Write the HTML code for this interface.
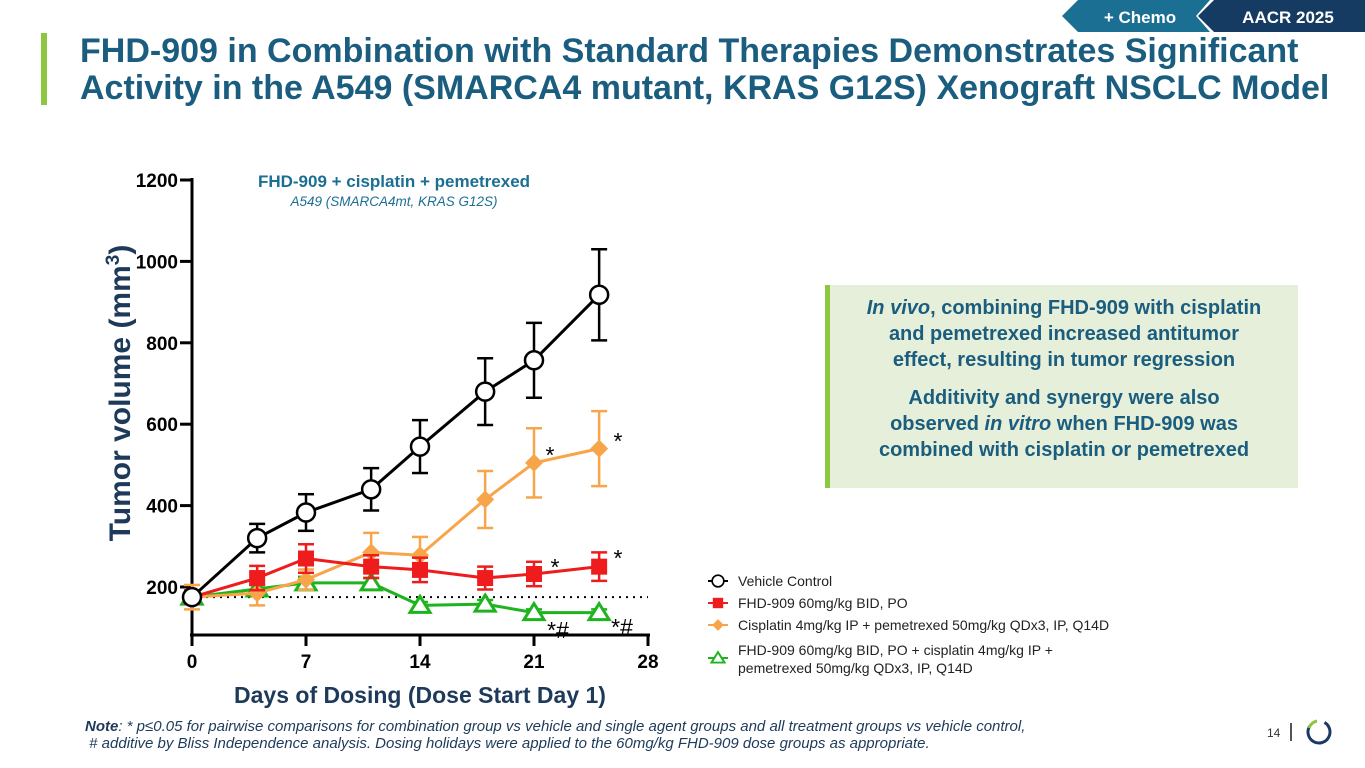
<!DOCTYPE html>
<html><head><meta charset="utf-8"><style>
body{margin:0;width:1365px;height:768px;background:#fff;font-family:"Liberation Sans",sans-serif;position:relative;overflow:hidden}
.abs{position:absolute}
</style></head><body>
<svg class="abs" style="left:0;top:0" width="1365" height="40">
<polygon points="1062,16 1078,0 1210,0 1196,16 1210,32 1078,32" fill="#1b6f93"/>
<text x="1140" y="23" text-anchor="middle" fill="#fff" font-size="17" font-weight="bold" font-family="Liberation Sans">+ Chemo</text>
<polygon points="1198,16 1214,0 1365,0 1365,32 1214,32" fill="#163b62"/>
<text x="1288" y="23" text-anchor="middle" fill="#fff" font-size="17" font-weight="bold" font-family="Liberation Sans">AACR 2025</text>
</svg>
<div class="abs" style="left:41px;top:33px;width:6px;height:72px;background:#8dc63f"></div>
<div class="abs" style="left:80px;top:33px;font-size:34px;font-weight:bold;color:#1a5d7e;line-height:37px;white-space:nowrap">FHD-909 in Combination with Standard Therapies Demonstrates Significant<br>Activity in the A549 (SMARCA4 mutant, KRAS G12S) Xenograft NSCLC Model</div>

<svg id="chart" class="abs" style="left:0;top:0" width="1365" height="768"></svg>

<div class="abs" style="left:825px;top:285px;width:473px;height:203px;background:#e6efd9;border-left:5px solid #8dc63f;box-sizing:border-box;text-align:center;color:#1a5d7e;font-weight:bold;font-size:20px;line-height:26px;padding-top:10px">
<div><i>In vivo</i>, combining FHD-909 with cisplatin<br>and pemetrexed increased antitumor<br>effect, resulting in tumor regression</div>
<div style="margin-top:12px">Additivity and synergy were also<br>observed <i>in vitro</i> when FHD-909 was<br>combined with cisplatin or pemetrexed</div>
</div>

<div class="abs" style="left:85px;top:718px;font-size:15px;font-style:italic;color:#1e3a5a;line-height:17px;white-space:nowrap"><b>Note</b>: * p≤0.05 for pairwise comparisons for combination group vs vehicle and single agent groups and all treatment groups vs vehicle control,<br>&nbsp;# additive by Bliss Independence analysis. Dosing holidays were applied to the 60mg/kg FHD-909 dose groups as appropriate.</div>
<div class="abs" style="left:1267px;top:726px;font-size:12px;color:#333">14</div>
<div class="abs" style="left:1290px;top:723px;width:2px;height:18px;background:#555"></div>
<svg class="abs" style="left:1303px;top:716px" width="32" height="32">
<circle cx="16" cy="16" r="11" fill="none" stroke="#1b3a63" stroke-width="3" stroke-dasharray="52 17" transform="rotate(-60 16 16)"/>
<path d="M6 12 A11 11 0 0 1 14 5" fill="none" stroke="#8dc63f" stroke-width="3"/>
</svg>

<script>
const days=[0,4,7,11,14,18,21,25];
const vehicle=[175,320,383,440,545,680,757,918];
const vehicleErr=[10,35,45,52,65,82,92,112];
const fhd=[175,222,270,250,242,222,232,250];
const fhdErr=[15,30,35,28,30,28,30,35];
const chemo=[175,185,218,285,278,415,505,540];
const chemoErr=[30,30,25,48,45,70,85,92];
const combo=[175,195,210,210,155,158,137,137];
const comboErr=[10,10,15,12,8,10,8,8];
const yTicks=[200,400,600,800,1000,1200];
const xTicks=[0,7,14,21,28];
const NS='http://www.w3.org/2000/svg';
const svg=document.getElementById('chart');
const X=d=>192+d*(456/28);
const Y=v=>587-(v-200)*0.407;
function el(t,a,p){const e=document.createElementNS(NS,t);for(const k in a)e.setAttribute(k,a[k]);(p||svg).appendChild(e);return e;}
function txt(x,y,s,a){const e=el('text',Object.assign({x:x,y:y,'font-family':'Liberation Sans'},a));e.textContent=s;return e;}
const ax=el('g',{});


el('line',{x1:192,y1:178,x2:192,y2:636,stroke:'#000','stroke-width':3},ax);
el('line',{x1:190,y1:635,x2:650,y2:635,stroke:'#000','stroke-width':3},ax);
yTicks.forEach(v=>{el('line',{x1:180,y1:Y(v),x2:192,y2:Y(v),stroke:'#000','stroke-width':3},ax);
 const t=txt(178,Y(v)+7,String(v),{'text-anchor':'end','font-size':19,'font-weight':'bold'});
 
 });
xTicks.forEach(d=>{el('line',{x1:X(d),y1:635,x2:X(d),y2:646,stroke:'#000','stroke-width':3},ax);
 const t=txt(X(d),668,String(d),{'text-anchor':'middle','font-size':19,'font-weight':'bold'});
 
 });
const xt=txt(420,703,'Days of Dosing (Dose Start Day 1)',{'text-anchor':'middle','font-size':23,'font-weight':'bold',fill:'#1e3a5a'});


const yt=txt(0,0,'',{'text-anchor':'middle','font-size':30,'font-weight':'bold',fill:'#1e3a5a',transform:'translate(130,393) rotate(-90)'});
yt.innerHTML='Tumor volume (mm<tspan dy="-11" font-size="19">3</tspan><tspan dy="11">)</tspan>';


const ct=txt(394,187,'FHD-909 + cisplatin + pemetrexed',{'text-anchor':'middle','font-size':17,'font-weight':'bold',fill:'#1b6f93'});


const cs=txt(394,206,'A549 (SMARCA4mt, KRAS G12S)',{'text-anchor':'middle','font-size':13.5,'font-style':'italic',fill:'#1b6f93'});


const dl=el('line',{x1:192,y1:Y(175),x2:648,y2:Y(175),stroke:'#000','stroke-width':2,'stroke-dasharray':'2 5'});


function marker(g,kind,x,y,c){
 if(kind==='circle')el('circle',{cx:x,cy:y,r:9,fill:'#fff',stroke:c,'stroke-width':2.5},g);
 else if(kind==='square')el('rect',{x:x-8,y:y-8,width:16,height:16,fill:c},g);
 else if(kind==='diamond')el('polygon',{points:`${x},${y-9} ${x+9},${y} ${x},${y+9} ${x-9},${y}`,fill:c},g);
 else el('polygon',{points:`${x},${y-9} ${x+10},${y+7} ${x-10},${y+7}`,fill:'#fff',stroke:c,'stroke-width':3},g);}
function series(name,vals,errs,c,kind){
 const g=el('g',{});
 
 
 vals.forEach((v,i)=>{const x=X(days[i]);const e=errs[i];
  el('line',{x1:x,y1:Y(v-e),x2:x,y2:Y(v+e),stroke:c,'stroke-width':2.5},g);
  el('line',{x1:x-8,y1:Y(v+e),x2:x+8,y2:Y(v+e),stroke:c,'stroke-width':2.5},g);
  el('line',{x1:x-8,y1:Y(v-e),x2:x+8,y2:Y(v-e),stroke:c,'stroke-width':2.5},g);});
 el('polyline',{points:vals.map((v,i)=>X(days[i])+','+Y(v)).join(' '),fill:'none',stroke:c,'stroke-width':3},g);
 vals.forEach((v,i)=>marker(g,kind,X(days[i]),Y(v),c));}
series('combo-series',combo,comboErr,'#1db41d','triangle');
series('chemo-series',chemo,chemoErr,'#f8a54a','diamond');
series('fhd909-series',fhd,fhdErr,'#ee1c1c','square');
series('vehicle-series',vehicle,vehicleErr,'#000','circle');
[[550,463,'*'],[618,449,'*'],[555,575,'*'],[618,566,'*'],[558,638,'*#'],[622,635,'*#']].forEach(a=>{
 const t=txt(a[0],a[1],a[2],{'font-size':23,'text-anchor':'middle'});
 
 });
const leg=[['Vehicle Control','circle','#000'],['FHD-909 60mg/kg BID, PO','square','#ee1c1c'],['Cisplatin 4mg/kg IP + pemetrexed 50mg/kg QDx3, IP, Q14D','diamond','#f8a54a'],['FHD-909 60mg/kg BID, PO + cisplatin 4mg/kg IP +','triangle','#1db41d']];
const ys=[581,603,625,658];
leg.forEach((l,i)=>{const g=el('g',{});
 
 
 const y=ys[i];
 el('line',{x1:708,y1:y,x2:728,y2:y,stroke:l[2],'stroke-width':2},g);
 const gm=el('g',{transform:`translate(718,${y}) scale(0.65)`},g);marker(gm,l[1],0,0,l[2]);
 const ty=i===3?y-3:y+5;
 const t=txt(738,ty,l[0],{'font-size':14,fill:'#222'});g.appendChild(t);});
const t2=txt(738,673,'pemetrexed 50mg/kg QDx3, IP, Q14D',{'font-size':14,fill:'#222'});


</script>
</body></html>
